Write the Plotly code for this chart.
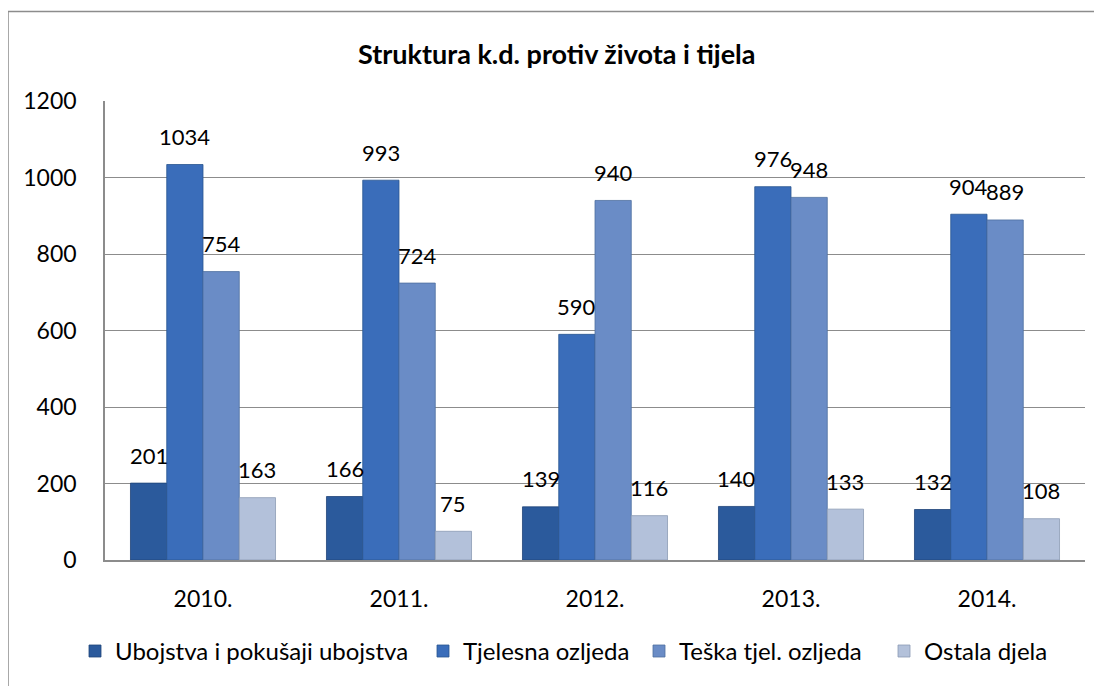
import plotly.graph_objects as go

years = ["2010.", "2011.", "2012.", "2013.", "2014."]
series_names = ["Ubojstva i pokušaji ubojstva", "Tjelesna ozljeda", "Teška tjel. ozljeda", "Ostala djela"]
ubojstva = [201, 166, 139, 140, 132]
tjelesna = [1034, 993, 590, 976, 904]
teska = [754, 724, 940, 948, 889]
ostala = [163, 75, 116, 133, 108]
y_ticks = [0, 200, 400, 600, 800, 1000, 1200]

values = [ubojstva, tjelesna, teska, ostala]
colors = ["#2B5A9C", "#3A6DBA", "#6A8CC6", "#B3C1DA"]
line_colors = ["#1F4478", "#28558F", "#4E6EA0", "#8C9BB4"]

# page offset of the plotly div (browser body margin)
OFF = 8
W, H = 1102 - OFF, 686 - OFF
# plot area in page pixels
PL, PR, PT, PB = 105, 1085, 101, 563
L, R, T, B = PL - OFF, W - (PR - OFF), PT - OFF, H - (PB - OFF)
plot_w = PR - PL
ph = PB - PT


def xp(p):
    return (p - PL) / plot_w


def yp(p):
    return (PB - p) / ph


bargap = 0.26
n = len(values)
bar_px = plot_w / len(years) * (1 - bargap) / n

FONT = "Lato"
legend_sym_left = [89, 437, 653, 898]
legend_keys = ["legend", "legend2", "legend3", "legend4"]

fig = go.Figure()
for i, (name, vals) in enumerate(zip(series_names, values)):
    fig.add_trace(go.Bar(
        x=years, y=vals, name=name, legend=legend_keys[i],
        marker=dict(color=colors[i], line=dict(color=line_colors[i], width=0.8)),
    ))

annotations = []
for i, vals in enumerate(values):
    shift = (i - (n - 1) / 2) * bar_px
    for j, v in enumerate(vals):
        annotations.append(dict(
            x=j, y=v, xref="x", yref="y", text=str(v), showarrow=False,
            xshift=shift, yshift=28, yanchor="middle", xanchor="center",
            font=dict(family=FONT, size=22, color="#000000"),
        ))

annotations.append(dict(
    x=xp(556), y=yp(53), xref="paper", yref="paper",
    text="<b>Struktura k.d. protiv života i tijela</b>", showarrow=False,
    xanchor="center", yanchor="middle",
    font=dict(family=FONT, size=27, color="#000000"),
))

shapes = [dict(
    type="rect", xref="paper", yref="paper",
    x0=xp(8), x1=xp(1115), y0=yp(700), y1=yp(11),
    line=dict(color="#8C8C8C", width=1.5), fillcolor="rgba(0,0,0,0)", layer="below",
)]

legend_cfg = {}
for i, key in enumerate(legend_keys):
    legend_cfg[key] = dict(
        orientation="h", x=xp(legend_sym_left[i] - 14), xanchor="left",
        y=yp(655), yanchor="middle", bgcolor="rgba(0,0,0,0)", borderwidth=0,
        font=dict(family=FONT, size=24, color="#000000"), itemwidth=30,
    )

fig.update_layout(
    width=W, height=H,
    margin=dict(l=L, r=R, t=T, b=B),
    paper_bgcolor="white", plot_bgcolor="white",
    barmode="group", bargap=bargap, bargroupgap=0,
    font=dict(family=FONT, size=22, color="#000000"),
    showlegend=True,
    annotations=annotations,
    shapes=shapes,
    xaxis=dict(type="category", range=[-0.5, len(years) - 0.5], showgrid=False, showline=True,
               linecolor="#8C8C8C", linewidth=1.5,
               ticks="", ticklabelstandoff=18, tickfont=dict(family=FONT, size=23)),
    yaxis=dict(range=[0, 1200], tickvals=y_ticks, showgrid=True, gridcolor="#8C8C8C",
               gridwidth=1.2, showline=True, linecolor="#8C8C8C", linewidth=1.5,
               ticks="", ticklabelstandoff=22, zeroline=False,
               tickfont=dict(family=FONT, size=23)),
    **legend_cfg,
)

fig.write_html("out.html")
